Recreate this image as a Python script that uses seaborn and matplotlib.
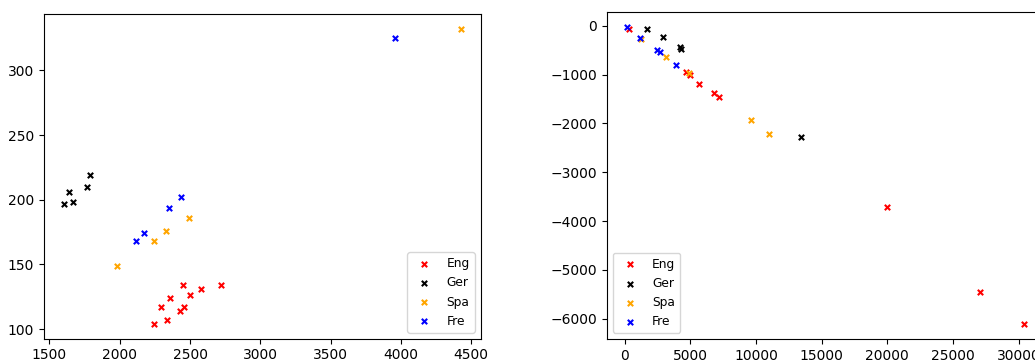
import pandas as pd
import matplotlib
matplotlib.use("Agg")
import matplotlib.pyplot as plt
import seaborn as sns

labels = ['Eng', 'Ger', 'Spa', 'Fre']
colors = ['red', 'black', 'orange', 'blue']

# left panel values
left_x = {
    'Eng': [2246, 2338, 2291, 2360, 2429, 2460, 2448, 2500, 2578, 2719],
    'Ger': [1600, 1669, 1638, 1764, 1787],
    'Spa': [1982, 2246, 2327, 2493, 4426],
    'Fre': [2115, 2172, 2348, 2436, 3961],
}
left_y = {
    'Eng': [104, 107, 117, 124, 114, 117, 134, 126, 131, 134],
    'Ger': [197, 198, 206, 210, 219],
    'Spa': [149, 168, 176, 186, 332],
    'Fre': [168, 174, 194, 202, 325],
}

# right panel values
right_x = {
    'Eng': [354, 4679, 5007, 5690, 6828, 7208, 20004, 27086, 30400],
    'Ger': [1669, 2934, 4180, 4280, 13454],
    'Spa': [1214, 3136, 4881, 9610, 11026],
    'Fre': [150, 1160, 2504, 2731, 3945],
}
right_y = {
    'Eng': [-75, -943, -1018, -1201, -1385, -1452, -3719, -5457, -6108],
    'Ger': [-61, -238, -440, -470, -2287],
    'Spa': [-265, -638, -971, -1927, -2213],
    'Fre': [-20, -245, -502, -543, -808],
}

fig = plt.figure(figsize=(10.35, 3.61), dpi=100)
ax1 = fig.add_axes([0.0422, 0.0618, 0.4222, 0.8986])
ax2 = fig.add_axes([0.5862, 0.0609, 0.4222, 0.9066])

for lab, col in zip(labels, colors):
    df = pd.DataFrame({'x': left_x[lab], 'y': left_y[lab]})
    sns.scatterplot(data=df, x='x', y='y', ax=ax1, marker='x', color=col,
                    s=15, linewidth=1.5, label=lab)
    df = pd.DataFrame({'x': right_x[lab], 'y': right_y[lab]})
    sns.scatterplot(data=df, x='x', y='y', ax=ax2, marker='x', color=col,
                    s=15, linewidth=1.5, label=lab)

for ax in (ax1, ax2):
    ax.set_xlabel('')
    ax.set_ylabel('')

ax1.legend(loc='lower right', fontsize=8.8)
ax2.legend(loc='lower left', fontsize=8.8)

fig.savefig('out.png', dpi=100)
